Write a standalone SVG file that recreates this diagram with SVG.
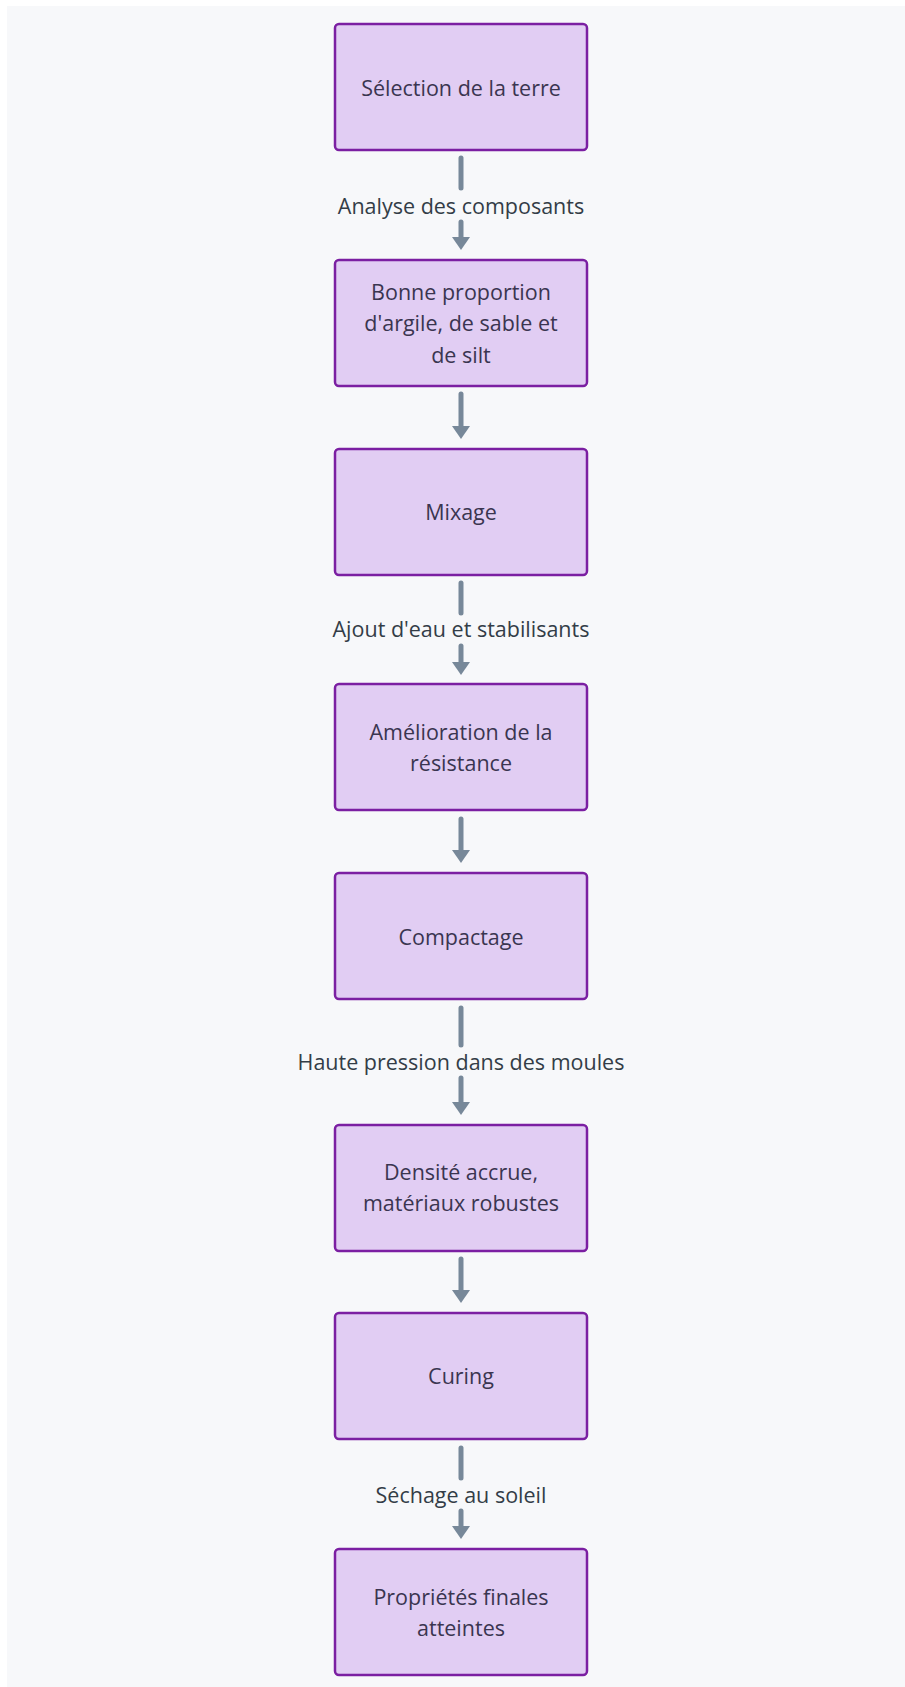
<svg xmlns="http://www.w3.org/2000/svg" width="905" height="1687" viewBox="0 0 905 1687">
<style>
.n rect{fill:#e1cdf3;stroke:#7b1fa2;stroke-width:2.5}
.n text{font-family:"Open Sans",sans-serif;font-size:21.5px;fill:#3a3550;text-anchor:middle;dominant-baseline:central}
.lbl{font-family:"Open Sans",sans-serif;font-size:21.5px;fill:#333d47;text-anchor:middle;dominant-baseline:central}
.c line{stroke:#778899;stroke-width:5;stroke-linecap:round}
.c path{fill:#778899}
</style>
<rect x="0" y="0" width="905" height="1687" fill="#ffffff"/>
<rect x="7" y="6" width="898" height="1681" fill="#f7f8fa"/>
<g class="c" id="connectors">
<line x1="461" y1="158" x2="461" y2="188"/><text class="lbl" x="461" y="205">Analyse des composants</text><line x1="461" y1="222" x2="461" y2="238"/><path d="M452 237 L470 237 L461 250 Z"/>
<line x1="461" y1="394" x2="461" y2="427"/><path d="M452 426 L470 426 L461 439 Z"/>
<line x1="461" y1="583" x2="461" y2="613"/><text class="lbl" x="461" y="628">Ajout d'eau et stabilisants</text><line x1="461" y1="646" x2="461" y2="663"/><path d="M452 662 L470 662 L461 675 Z"/>
<line x1="461" y1="819" x2="461" y2="851"/><path d="M452 850 L470 850 L461 863 Z"/>
<line x1="461" y1="1008" x2="461" y2="1045"/><text class="lbl" x="461" y="1061">Haute pression dans des moules</text><line x1="461" y1="1078" x2="461" y2="1103"/><path d="M452 1102 L470 1102 L461 1115 Z"/>
<line x1="461" y1="1259" x2="461" y2="1291"/><path d="M452 1290 L470 1290 L461 1303 Z"/>
<line x1="461" y1="1448" x2="461" y2="1478"/><text class="lbl" x="461" y="1494">Séchage au soleil</text><line x1="461" y1="1511" x2="461" y2="1527"/><path d="M452 1526 L470 1526 L461 1539 Z"/>
</g>
<g class="n" id="n1"><rect x="335" y="24" width="252" height="126" rx="4"/><text x="461" y="87">Sélection de la terre</text></g>
<g class="n" id="n2"><rect x="335" y="260" width="252" height="126" rx="4"/><text x="461" y="291">Bonne proportion</text><text x="461" y="322">d'argile, de sable et</text><text x="461" y="354">de silt</text></g>
<g class="n" id="n3"><rect x="335" y="449" width="252" height="126" rx="4"/><text x="461" y="511">Mixage</text></g>
<g class="n" id="n4"><rect x="335" y="684" width="252" height="126" rx="4"/><text x="461" y="731">Amélioration de la</text><text x="461" y="762">résistance</text></g>
<g class="n" id="n5"><rect x="335" y="873" width="252" height="126" rx="4"/><text x="461" y="936">Compactage</text></g>
<g class="n" id="n6"><rect x="335" y="1125" width="252" height="126" rx="4"/><text x="461" y="1171">Densité accrue,</text><text x="461" y="1202">matériaux robustes</text></g>
<g class="n" id="n7"><rect x="335" y="1313" width="252" height="126" rx="4"/><text x="461" y="1375">Curing</text></g>
<g class="n" id="n8"><rect x="335" y="1549" width="252" height="126" rx="4"/><text x="461" y="1596">Propriétés finales</text><text x="461" y="1627">atteintes</text></g>
</svg>
